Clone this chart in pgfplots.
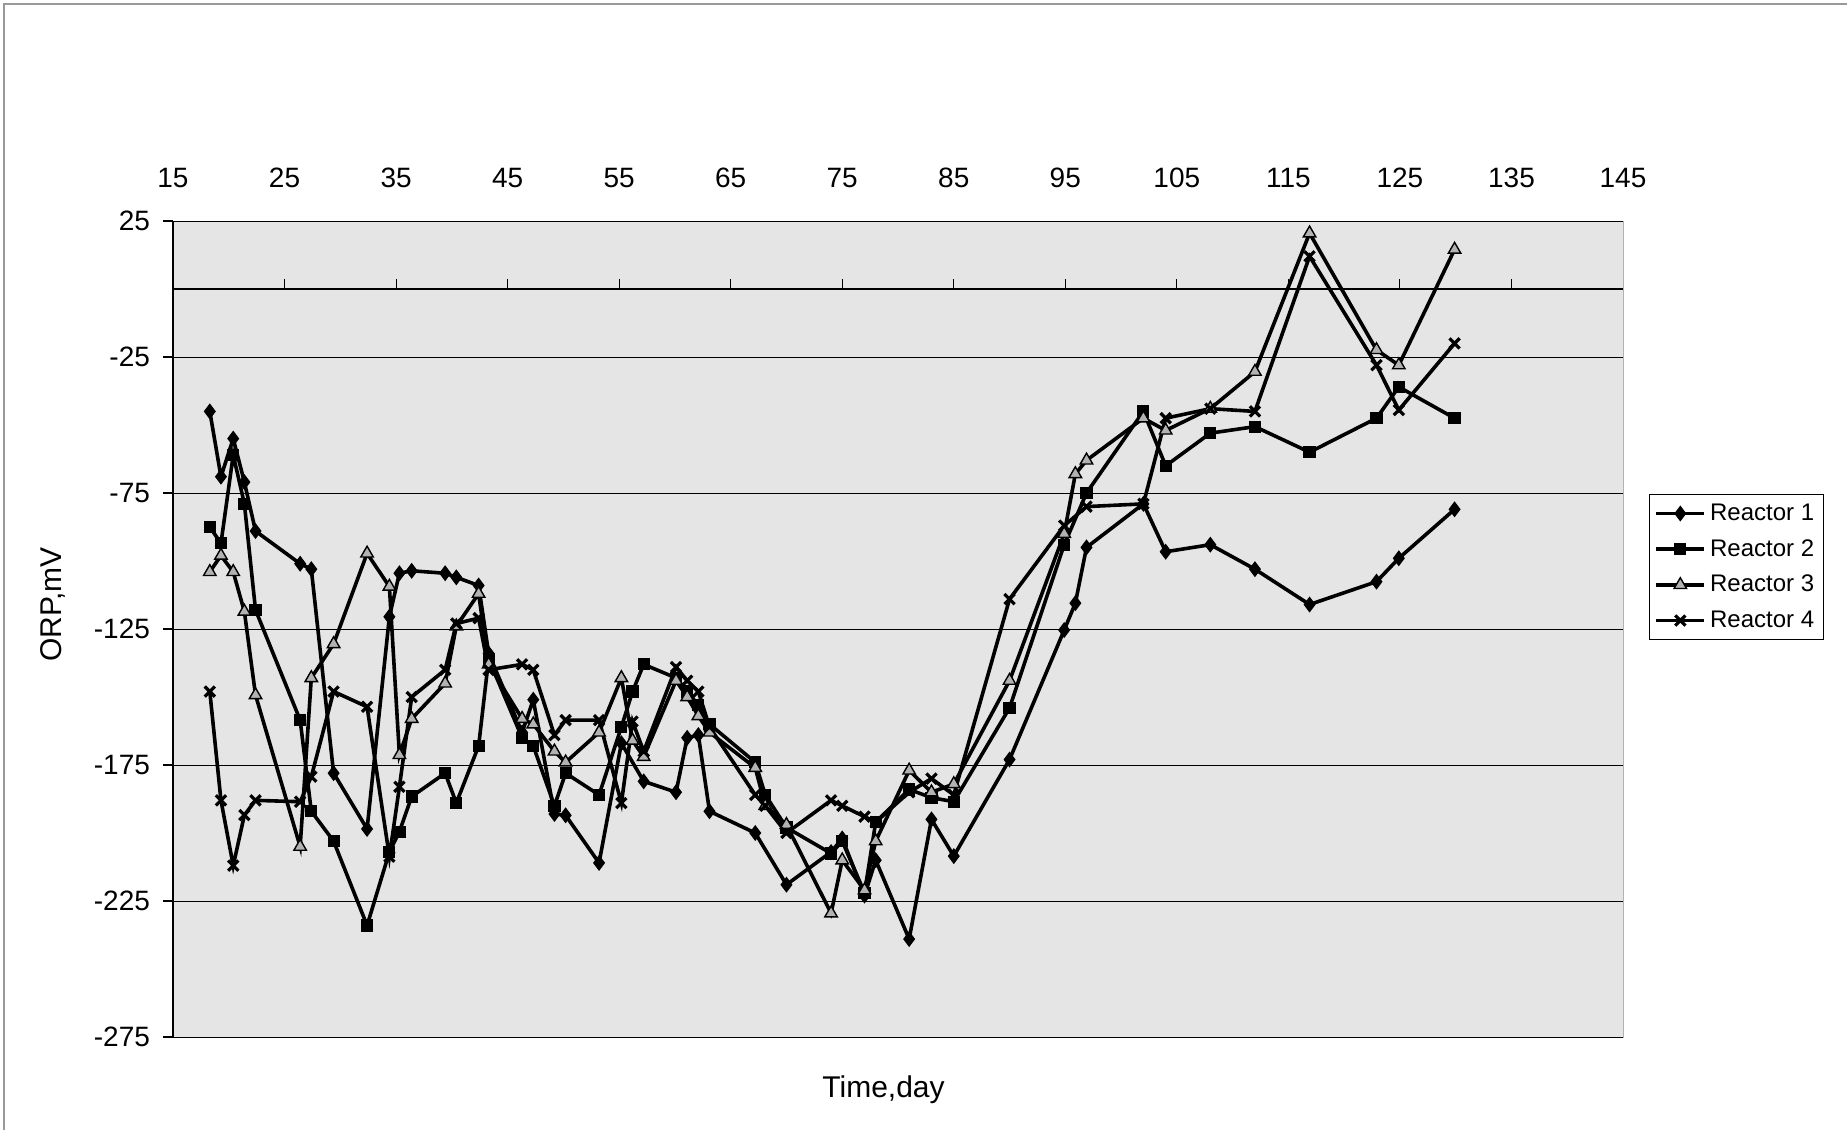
\documentclass[border=0pt]{standalone}
\usepackage{fontspec}
\setmainfont{Liberation Sans}
\usepackage{pgfplots}
\pgfplotsset{compat=1.18}
\begin{document}
\begin{tikzpicture}[x=1pt,y=1pt]
\path[use as bounding box] (-86.5,-46.5) rectangle (837,518.5);
\draw[gray!80, line width=0.6pt] (-84.5,-46.5) -- (-84.5,516.5) -- (837,516.5);
\begin{axis}[
 at={(0,0)}, anchor=south west,
 scale only axis, width=725pt, height=408pt,
 xmin=15, xmax=145, ymin=-275, ymax=25,
 axis x line*=top, axis y line*=left,
 x axis line style={draw=none},
 xtick={15,25,...,145},
 x tick style={draw=none},
 ytick={-275,-225,...,25},
 ymajorgrids, grid style={black, line width=0.5pt},
 y tick style={black, line width=0.6pt}, tick align=outside, major tick length=5pt,
 y axis line style={black, line width=0.9pt, -},
 axis background/.style={fill=gray!20, draw=gray!60},
 tick label style={font=\fontsize{14}{16}\selectfont},
 /pgf/number format/assume math mode=true,
 xticklabel style={yshift=8pt},
 yticklabel style={xshift=-3pt},
 xlabel={Time,day}, ylabel={ORP,mV},
 label style={font=\fontsize{15}{17}\selectfont},
 xlabel style={at={(axis description cs:0.49,-0.065)}, anchor=center},
 ylabel style={at={(axis description cs:-0.083,0.53)}, anchor=center},
 legend style={at={(axis description cs:1.018,0.665)}, anchor=north west, draw=black, fill=white, font=\fontsize{12}{14}\selectfont, row sep=4pt, inner sep=2.5pt},
 legend cell align=left,
 legend image code/.code={\draw[mark repeat=2,mark phase=2,#1] plot coordinates {(0pt,0pt) (12pt,0pt) (24pt,0pt)};},
 every axis plot/.append style={black, line width=1.8pt},
 clip=false,
]
\draw[black, line width=0.9pt] (axis cs:15,0) -- (axis cs:145,0);
\pgfplotsinvokeforeach{25,35,45,55,65,75,85,95,105,115,125,135}{\draw[black, line width=0.5pt] (axis cs:#1,0) -- (axis cs:#1,3.7);}

\addplot[mark=diamond*, mark size=3.6pt, mark options={solid, fill=black, line width=0.5pt}] coordinates {
(18.3,-45) (19.3,-69) (20.4,-55) (21.4,-71) (22.4,-89) (26.4,-101) (27.4,-103) (29.4,-178) (32.4,-198.5) (34.4,-120.5) (35.3,-104.5) (36.4,-103.6) (39.4,-104.5) (40.4,-106) (42.4,-109) (43.3,-134) (46.3,-163) (47.3,-151) (49.2,-193) (50.2,-193.5) (53.2,-211) (55.2,-167) (57.2,-181) (60.1,-185) (61.1,-165) (62.1,-164) (63.1,-192) (67.2,-200) (70.0,-219) (74.0,-207) (75.0,-202) (77.0,-223) (78.0,-210) (81.0,-239) (83.0,-195) (85.0,-208.5) (90.0,-173) (94.9,-125.4) (95.9,-115.5) (96.9,-95) (102.0,-79) (104.0,-96.6) (108.0,-94) (112.0,-103) (116.9,-116) (122.9,-107.6) (124.9,-99) (129.9,-81)
};
\addlegendentry{Reactor 1}

\addplot[mark=square*, mark size=2.8pt, mark options={solid, fill=black, line width=0.5pt}] coordinates {
(18.3,-87.5) (19.3,-93.5) (20.4,-61) (21.4,-79) (22.4,-118) (26.4,-158.5) (27.4,-192) (29.4,-203) (32.4,-234) (34.4,-207) (35.3,-199.5) (36.4,-186.6) (39.4,-178) (40.4,-189) (42.4,-168) (43.3,-136) (46.3,-165) (47.3,-168) (49.2,-190) (50.2,-178) (53.2,-186) (55.2,-161) (56.2,-148) (57.2,-138) (60.1,-143) (61.1,-148) (62.1,-153) (63.1,-160) (67.2,-174) (68.1,-186) (70.0,-198) (74.0,-207.5) (75.0,-203) (77.0,-222) (78.0,-196) (81.0,-184) (83.0,-187) (85.0,-188.5) (90.0,-154) (94.9,-94) (96.9,-75) (102.0,-45) (104.0,-65) (108.0,-53) (112.0,-50.6) (116.9,-60) (122.9,-47.5) (124.9,-36) (129.9,-47.5)
};
\addlegendentry{Reactor 2}

\addplot[mark=triangle*, mark size=3.6pt, mark options={solid, fill=gray!60, draw=black, line width=0.7pt}] coordinates {
(18.3,-104) (19.3,-98) (20.4,-104) (21.4,-118.6) (22.4,-149.3) (26.4,-205) (27.4,-143) (29.4,-130.5) (32.4,-97.2) (34.4,-109.4) (35.3,-171.3) (36.4,-158) (39.4,-145) (40.4,-124) (42.4,-112) (43.3,-138) (46.3,-158) (47.3,-160) (49.2,-170) (50.2,-174) (53.2,-163) (55.2,-143) (56.2,-166) (57.2,-172) (60.1,-144) (61.1,-150) (62.1,-157) (63.1,-163) (67.2,-176) (68.1,-190) (70.0,-197) (74.0,-229.5) (75.0,-210) (77.0,-221) (78.0,-203) (81.0,-177) (83.0,-185) (85.0,-182) (90.0,-144) (94.9,-90) (95.9,-68) (96.9,-63) (102.0,-47.5) (104.0,-52) (108.0,-44) (112.0,-30.4) (116.9,20.5) (122.9,-22.4) (124.9,-28) (129.9,14.5)
};
\addlegendentry{Reactor 3}

\addplot[mark=x, mark size=3.6pt, mark options={solid, line width=1.6pt}] coordinates {
(18.3,-148) (19.3,-188) (20.4,-212) (21.4,-193.4) (22.4,-188) (26.4,-188.5) (27.4,-179.3) (29.4,-148) (32.4,-153.6) (34.4,-208.7) (35.3,-183) (36.4,-150) (39.4,-140) (40.4,-123) (42.4,-121) (43.3,-140) (46.3,-138) (47.3,-140) (49.2,-164) (50.2,-158.5) (53.2,-158.5) (55.2,-189) (56.2,-159) (57.2,-170) (60.1,-139) (61.1,-144) (62.1,-148) (63.1,-161) (67.2,-186) (68.1,-190) (70.0,-200) (74.0,-188) (75.0,-190) (77.0,-194) (78.0,-196) (81.0,-185) (83.0,-180) (85.0,-186) (90.0,-114) (94.9,-87) (96.9,-80) (102.0,-79) (104.0,-47.5) (108.0,-44) (112.0,-45) (116.9,12) (122.9,-28) (124.9,-44.5) (129.9,-20)
};
\addlegendentry{Reactor 4}
\end{axis}
\end{tikzpicture}
\end{document}
